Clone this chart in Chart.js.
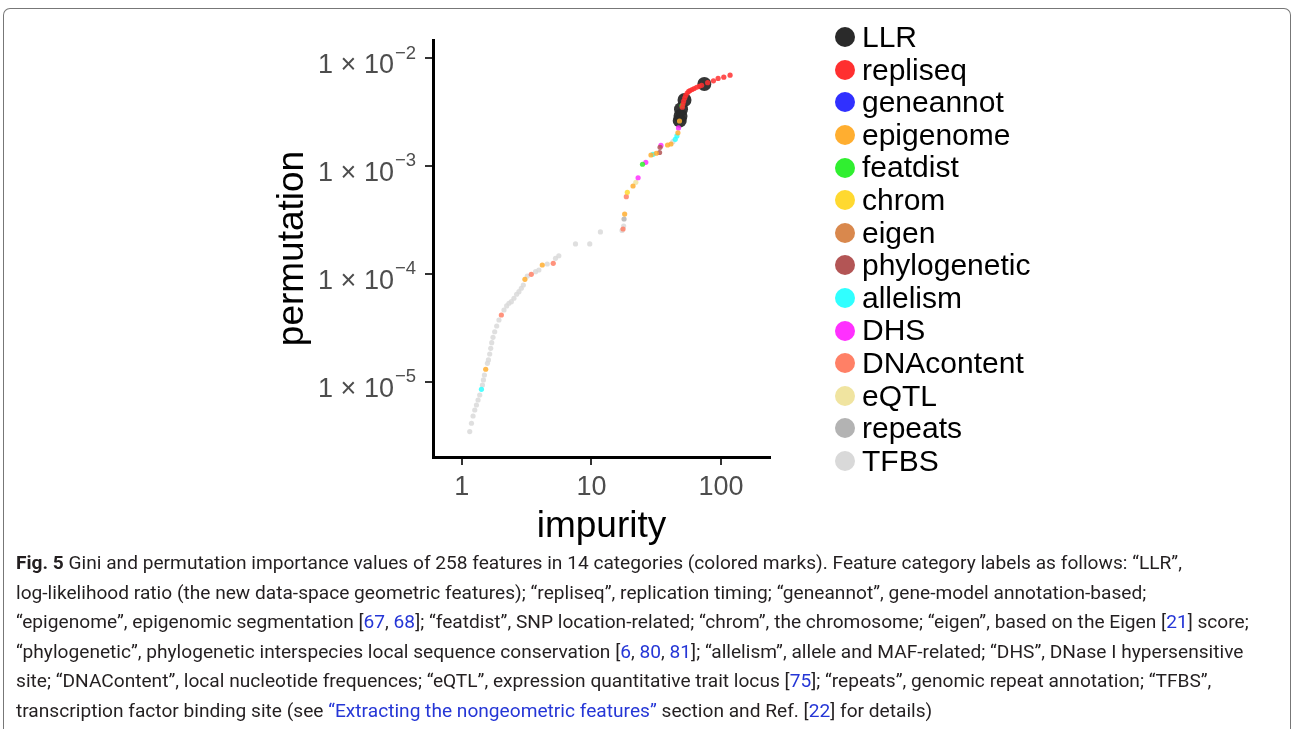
<!DOCTYPE html>
<html>
<head>
<meta charset="utf-8">
<script src="https://cdn.jsdelivr.net/npm/chart.js@4/dist/chart.umd.min.js"></script>
<style>
  html, body { margin: 0; padding: 0; background: #fff; }
  body { width: 1293px; height: 729px; position: relative; overflow: hidden; font-family: "Liberation Sans", Arial, sans-serif; }
  #frame { position: absolute; left: 3px; top: 8px; width: 1286px; height: 740px; border: 1px solid #777; border-bottom: none; border-radius: 7px 7px 0 0; }
  #chart { position: absolute; left: 0; top: 0; }
  #legend { position: absolute; left: 835px; top: 21px; }
  .item { height: 32.6px; line-height: 32.6px; font-size: 30px; color: #000; white-space: nowrap; position: relative; padding-left: 27px; }
  .dot { position: absolute; left: 0; top: 6.3px; width: 20px; height: 20px; border-radius: 50%; }
  .cap { position: absolute; left: 16px; font-size: 19px; line-height: 24px; color: #231f20; white-space: nowrap; transform-origin: 0 50%;
         font-family: "Roboto", "Noto Sans", sans-serif; }
  .cap a { color: #2536d6; text-decoration: none; }
</style>
</head>
<body>
<div id="frame"></div>
<canvas id="chart" width="1293" height="729"></canvas>
<div id="legend"></div>
<div id="caption"></div>
<script>
// categories and colours
const categories = ['LLR', 'repliseq', 'geneannot', 'epigenome', 'featdist', 'chrom', 'eigen',
    'phylogenetic', 'allelism', 'DHS', 'DNAcontent', 'eQTL', 'repeats', 'TFBS'];
const catColors = ['#2a2a2a', '#ff3030', '#3030ff', '#ffae30', '#30ef30', '#ffd930', '#d9884d',
    '#b35555', '#30ffff', '#ff30ff', '#ff8066', '#f0e4a0', '#b3b3b3', '#d9d9d9'];

// [impurity, permutation] per category
const LLR = [[47.96, 2.63e-3], [48.64, 2.90e-3], [49.07, 3.35e-3], [52.21, 4.08e-3], [74.27, 5.74e-3]];
const repliseq = [[50.2, 3.5e-3], [50.83, 3.75e-3], [51.45, 4.00e-3], [52.4, 4.26e-3], [53.33, 4.50e-3],
    [54.77, 4.74e-3], [56.23, 4.90e-3], [57.7, 5.00e-3], [59.8, 5.11e-3], [62.0, 5.22e-3], [64.8, 5.36e-3],
    [67.7, 5.47e-3], [70.8, 5.59e-3], [78.7, 5.91e-3], [87.3, 6.15e-3], [94.8, 6.47e-3], [104.9, 6.64e-3],
    [117.3, 6.93e-3]];
const geneannot = [];
const epigenome = [[1.530, 1.312e-5], [3.069, 8.93e-5], [4.177, 1.211e-4], [18.04, 3.59e-4], [20.93, 6.53e-4],
    [28.79, 1.264e-3], [31.62, 1.312e-3], [38.64, 1.565e-3], [41.03, 1.599e-3], [46.45, 2.03e-3], [47.78, 2.61e-3]];
const featdist = [[24.77, 1.038e-3], [49.94, 3.62e-3]];
const chrom = [[18.92, 5.71e-4]];
const eigen = [];
const phylogenetic = [[33.53, 1.334e-3], [33.82, 1.49e-3]];
const allelism = [[1.418, 8.55e-6], [29.83, 1.283e-3], [44.29, 1.767e-3], [45.63, 1.897e-3]];
const DHS = [[22.9, 7.78e-4], [26.26, 1.082e-3], [34.37, 1.549e-3], [46.94, 2.25e-3]];
const DNAcontent = [[2.020, 4.17e-5], [3.437, 9.93e-5], [5.076, 1.256e-4], [17.53, 2.61e-4], [18.58, 5.20e-4]];
const eQTL = [[22.0, 7.06e-4]];
const repeats = [[17.85, 3.23e-4]];
const TFBS = [[1.152, 3.47e-6], [1.188, 4.15e-6], [1.222, 4.84e-6], [1.259, 5.50e-6], [1.298, 6.12e-6],
    [1.335, 6.81e-6], [1.375, 7.58e-6], [1.443, 9.38e-6], [1.469, 1.044e-5], [1.495, 1.161e-5],
    [1.577, 1.489e-5], [1.605, 1.60e-5], [1.642, 1.816e-5], [1.672, 2.05e-5], [1.702, 2.31e-5],
    [1.741, 2.59e-5], [1.794, 2.92e-5], [1.859, 3.30e-5], [1.936, 3.75e-5], [2.116, 4.64e-5],
    [2.219, 5.06e-5], [2.311, 5.36e-5], [2.412, 5.54e-5], [2.526, 5.96e-5], [2.649, 6.49e-5],
    [2.760, 6.86e-5], [2.879, 7.38e-5], [2.984, 7.91e-5], [3.202, 9.58e-5], [3.709, 1.05e-4],
    [3.932, 1.089e-4], [4.563, 1.238e-4], [5.285, 1.397e-4], [5.604, 1.476e-4], [7.534, 1.897e-4],
    [9.703, 1.897e-4], [11.73, 2.45e-4], [17.23, 2.53e-4], [17.72, 2.78e-4], [42.52, 1.679e-3]];

const seriesData = [LLR, repliseq, geneannot, epigenome, featdist, chrom, eigen,
    phylogenetic, allelism, DHS, DNAcontent, eQTL, repeats, TFBS];

// ticks
const xTickValues = [1, 10, 100];
const xTickLabels = ['1', '10', '100'];
const yTickValues = [1e-5, 1e-4, 1e-3, 1e-2];
const yTickExponents = ['\u22125', '\u22124', '\u22123', '\u22122'];

function hexA(hex, a) {
    const n = parseInt(hex.slice(1), 16);
    return 'rgba(' + (n >> 16) + ',' + ((n >> 8) & 255) + ',' + (n & 255) + ',' + a + ')';
}

const drawOrder = {LLR: 18, repeats: 19, TFBS: 20};

const datasets = categories.map((name, i) => ({
    label: name,
    data: seriesData[i].map(p => ({x: p[0], y: p[1]})),
    backgroundColor: hexA(catColors[i], name === 'LLR' ? 0.95 : 0.85),
    borderWidth: 0,
    pointRadius: name === 'LLR' ? 7 : 2.6,
    order: drawOrder[name] || 1
}));

// y tick labels with a raised exponent
const yTickLabelPlugin = {
    id: 'yTickLabels',
    afterDraw(chart) {
        const {ctx} = chart;
        const y = chart.scales.y;
        ctx.save();
        ctx.fillStyle = '#4d4d4d';
        ctx.textAlign = 'right';
        ctx.textBaseline = 'alphabetic';
        y.ticks.forEach((t, i) => {
            const py = y.getPixelForValue(t.value);
            const right = y.right - 17;
            ctx.font = '18.5px "Liberation Sans", Arial, sans-serif';
            const exp = yTickExponents[i];
            const w = ctx.measureText(exp).width;
            ctx.fillText(exp, right, py + 0.5);
            ctx.font = '27px "Liberation Sans", Arial, sans-serif';
            ctx.fillText('1 \u00d7 10', right - w - 1, py + 14.7);
        });
        ctx.restore();
    }
};

Chart.defaults.font.family = '"Liberation Sans", Arial, sans-serif';

const ctx = document.getElementById('chart').getContext('2d');
window.myChart = new Chart(ctx, {
    type: 'scatter',
    data: {datasets: datasets},
    options: {
        responsive: false,
        animation: false,
        devicePixelRatio: 1,
        layout: {padding: {left: 0, top: 40, right: 523, bottom: 172}},
        plugins: {legend: {display: false}, tooltip: {enabled: false}},
        scales: {
            x: {
                type: 'logarithmic',
                min: 0.609,
                max: 238.3,
                afterBuildTicks: axis => { axis.ticks = xTickValues.map(v => ({value: v})); },
                afterFit: axis => { axis.height = 100; },
                ticks: {
                    callback: (v, i) => xTickLabels[i],
                    color: '#4d4d4d',
                    font: {size: 27},
                    padding: 6,
                    maxRotation: 0,
                    autoSkip: false
                },
                grid: {drawOnChartArea: false, drawTicks: true, tickLength: 8, color: '#333', lineWidth: 2},
                border: {display: true, color: '#000', width: 3},
                title: {display: true, text: 'impurity', color: '#000', font: {size: 37}, padding: {top: 0, bottom: 8}}
            },
            y: {
                type: 'logarithmic',
                min: 2.02e-6,
                max: 0.01468,
                afterBuildTicks: axis => { axis.ticks = yTickValues.map(v => ({value: v})); },
                afterFit: axis => { axis.width = 433; },
                ticks: {display: false},
                grid: {drawOnChartArea: false, drawTicks: true, tickLength: 8, color: '#333', lineWidth: 2},
                border: {display: true, color: '#000', width: 3},
                title: {display: true, text: 'permutation', color: '#000', font: {size: 37}, padding: {top: 271, bottom: 0}}
            }
        }
    },
    plugins: [yTickLabelPlugin]
});

// legend
const legend = document.getElementById('legend');
categories.forEach((name, i) => {
    const d = document.createElement('div');
    d.className = 'item';
    d.innerHTML = '<span class="dot" style="background:' + catColors[i] + '"></span>' + name;
    legend.appendChild(d);
});

// caption, one div per printed line
const captionLines = [
    '<b>Fig. 5</b> Gini and permutation importance values of 258 features in 14 categories (colored marks). Feature category labels as follows: \u201cLLR\u201d,',
    'log-likelihood ratio (the new data-space geometric features); \u201crepliseq\u201d, replication timing; \u201cgeneannot\u201d, gene-model annotation-based;',
    '\u201cepigenome\u201d, epigenomic segmentation [<a>67</a>, <a>68</a>]; \u201cfeatdist\u201d, SNP location-related; \u201cchrom\u201d, the chromosome; \u201ceigen\u201d, based on the Eigen [<a>21</a>] score;',
    '\u201cphylogenetic\u201d, phylogenetic interspecies local sequence conservation [<a>6</a>, <a>80</a>, <a>81</a>]; \u201callelism\u201d, allele and MAF-related; \u201cDHS\u201d, DNase I hypersensitive',
    'site; \u201cDNAContent\u201d, local nucleotide frequences; \u201ceQTL\u201d, expression quantitative trait locus [<a>75</a>]; \u201crepeats\u201d, genomic repeat annotation; \u201cTFBS\u201d,',
    'transcription factor binding site (see <a>\u201cExtracting the nongeometric features\u201d</a> section and Ref. [<a>22</a>] for details)'
];
const captionRight = [1065, 1180, 1283, 1268, 1222, 945];
const caption = document.getElementById('caption');
const capDivs = captionLines.map((html, i) => {
    const d = document.createElement('div');
    d.className = 'cap';
    d.style.top = (563 + i * 29.6 - 12) + 'px';
    d.innerHTML = html;
    caption.appendChild(d);
    return d;
});
// one common horizontal squeeze so the lines keep a single type size
let ratio = 0;
capDivs.forEach((d, i) => { ratio += (captionRight[i] - 16) / d.getBoundingClientRect().width; });
ratio /= capDivs.length;
capDivs.forEach(d => { d.style.transform = 'scaleX(' + ratio + ')'; });
</script>
</body>
</html>
